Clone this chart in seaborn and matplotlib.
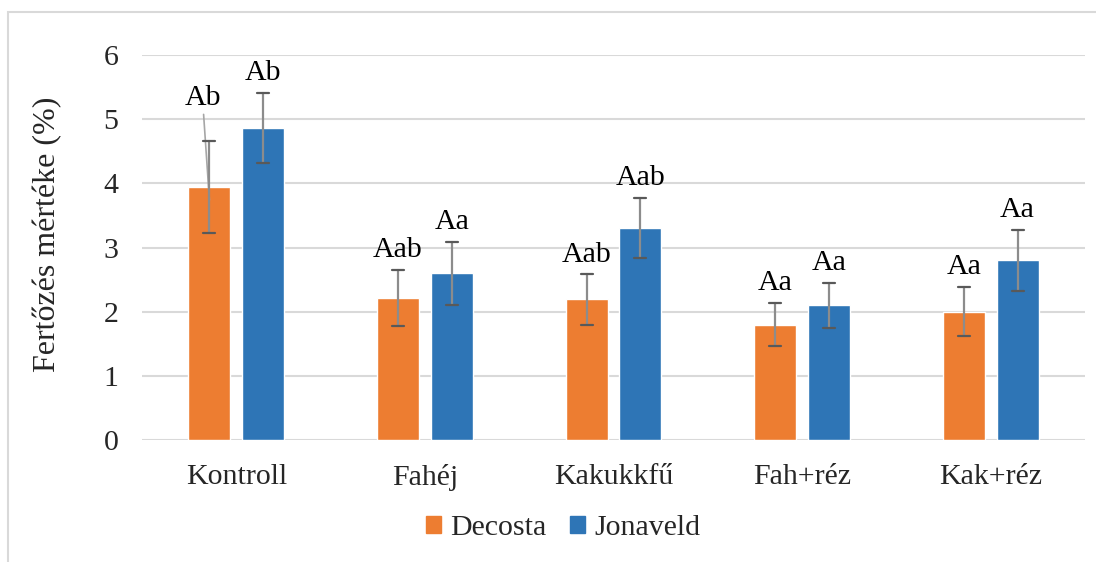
import matplotlib
matplotlib.use('Agg')
import matplotlib.pyplot as plt
import numpy as np
import pandas as pd
import seaborn as sns
from matplotlib.patches import Rectangle

# data
treatments = ['Kontroll', 'Fahéj', 'Kakukkfű', 'Fah+réz', 'Kak+réz']
varieties = ['Decosta', 'Jonaveld']
decosta = [3.94, 2.21, 2.19, 1.80, 2.00]
jonaveld = [4.86, 2.60, 3.30, 2.10, 2.80]
decosta_err = [0.72, 0.44, 0.39, 0.34, 0.38]
jonaveld_err = [0.55, 0.49, 0.47, 0.35, 0.48]
decosta_labels = ['Ab', 'Aab', 'Aab', 'Aa', 'Aa']
jonaveld_labels = ['Ab', 'Aa', 'Aab', 'Aa', 'Aa']

colors = ['#ED7D31', '#2E75B6']

df = pd.DataFrame({
    'Kezelés': treatments * 2,
    'Fajta': [varieties[0]] * len(treatments) + [varieties[1]] * len(treatments),
    'Érték': decosta + jonaveld,
})

sns.set_theme(style='white')
plt.rcParams['font.family'] = ['Liberation Serif', 'DejaVu Serif']

fs = 21.5
fig = plt.figure(figsize=(10.96, 5.62), dpi=100)
ax = fig.add_axes([142 / 1096, 1 - 440 / 562, (1085 - 142) / 1096, (440 - 55) / 562])

sns.barplot(data=df, x='Kezelés', y='Érték', hue='Fajta', order=treatments,
            hue_order=varieties, palette=colors, width=0.57, gap=0.22,
            errorbar=None, legend=False, ax=ax, saturation=1)

errs = [decosta_err, jonaveld_err]
vals = [decosta, jonaveld]
labels = [decosta_labels, jonaveld_labels]
for i, cont in enumerate(ax.containers):
    xs = [p.get_x() + p.get_width() / 2 for p in cont.patches]
    for j, x in enumerate(xs):
        v, e = vals[i][j], errs[i][j]
        ax.plot([x, x], [v - e, v + e], color='#8c8c8c', lw=1.6, zorder=4)
        ax.plot([x - 0.032, x + 0.032], [v + e, v + e], color='#595959', lw=1.6, zorder=4)
        ax.plot([x - 0.032, x + 0.032], [v - e, v - e], color='#595959', lw=1.6, zorder=4)
        if i == 0 and j == 0:
            # label moved off the bar with a leader line
            ax.annotate(labels[i][j], xy=(x, v - 0.2), xytext=(-5, 64),
                        textcoords='offset points', ha='center', va='bottom',
                        fontsize=fs, color='black',
                        arrowprops=dict(arrowstyle='-', color='#a6a6a6', lw=1.2,
                                        shrinkA=0, shrinkB=0))
        else:
            ax.annotate(labels[i][j], xy=(x, v + e), xytext=(0, 5),
                        textcoords='offset points', ha='center', va='bottom',
                        fontsize=fs, color='black')

ax.set_ylim(0, 6)
ax.set_xlim(-0.5, 4.5)
ax.set_yticks(range(0, 7))
ax.yaxis.grid(True, color='#d9d9d9', lw=1.5)
ax.set_axisbelow(True)
for s in ax.spines.values():
    s.set_visible(False)
ax.tick_params(axis='y', length=0, pad=17, labelsize=fs)
ax.tick_params(axis='x', length=0, pad=17, labelsize=fs)
ax.set_xlabel('')
ax.set_ylabel('Fertőzés mértéke (%)', fontsize=23)
ax.yaxis.set_label_coords(-0.085, 0.534)

handles = [Rectangle((0, 0), 1, 1, color=c) for c in colors]
fig.legend(handles, varieties, loc='center', bbox_to_anchor=(563 / 1096, 1 - 528 / 562),
           ncol=2, frameon=False, fontsize=fs, handlelength=0.5, handleheight=0.5,
           handletextpad=0.3, columnspacing=0.8)

# light frame around the chart like the original
fig.patches.append(Rectangle((8 / 1096, -0.05), 1.2, 1.05 - 12 / 562, transform=fig.transFigure,
                             fill=False, edgecolor='#d9d9d9', lw=1.5, figure=fig))

fig.savefig('out.png', dpi=100)
